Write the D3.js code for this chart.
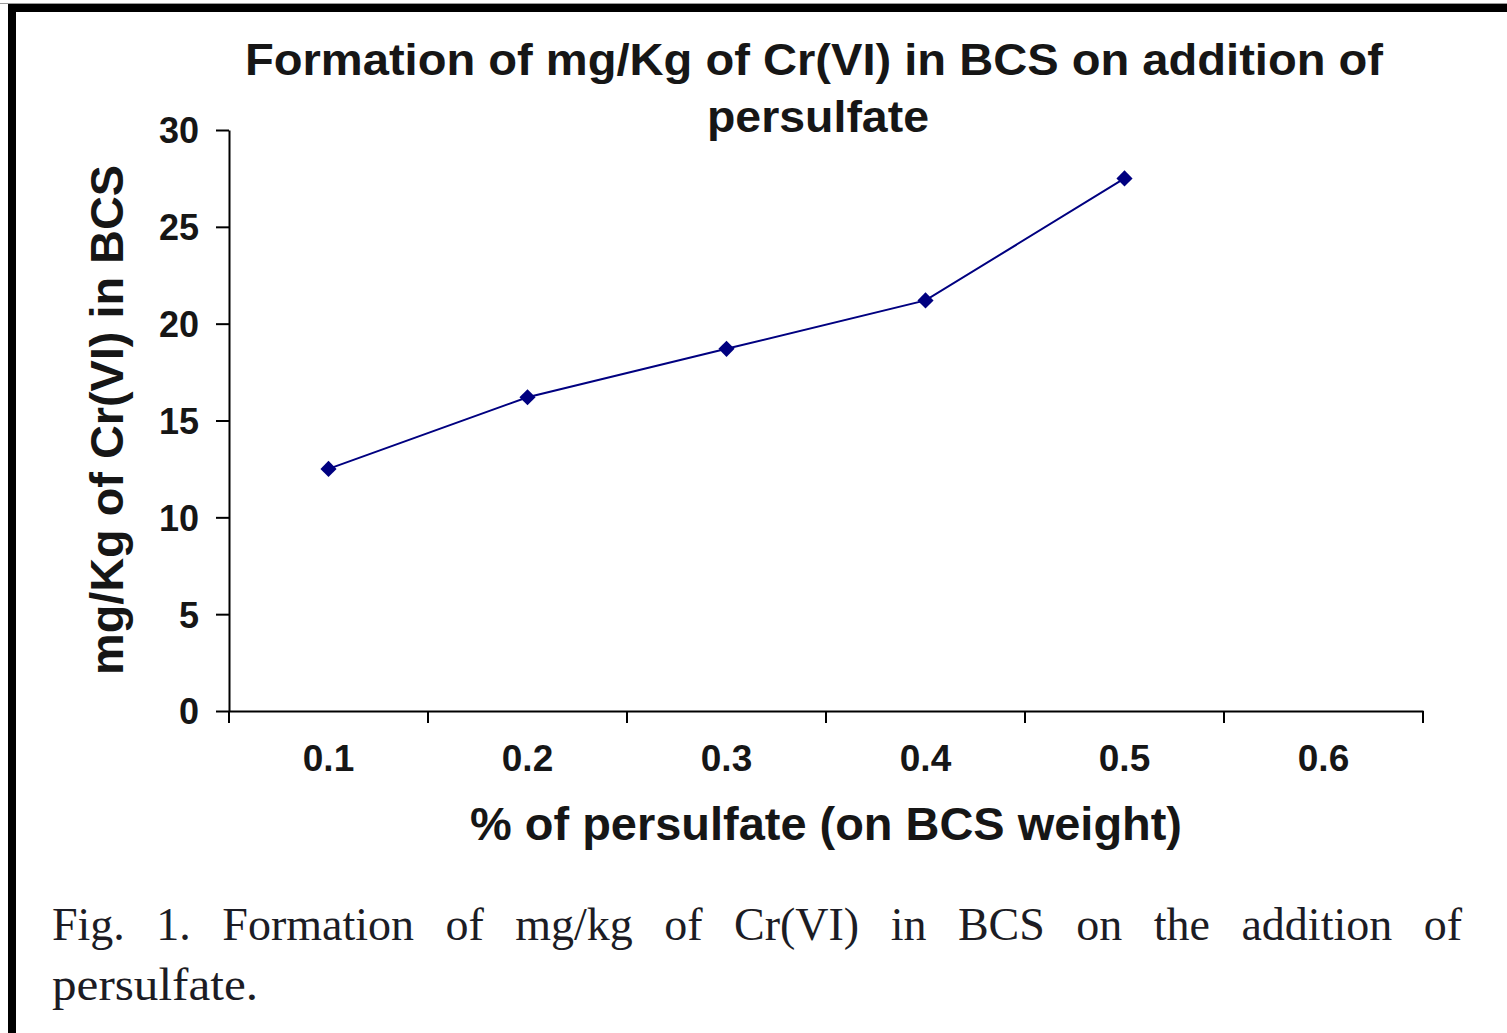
<!DOCTYPE html>
<html>
<head>
<meta charset="utf-8">
<script src="https://cdn.jsdelivr.net/npm/d3@7"></script>
<style>
  html, body { margin: 0; padding: 0; background: #fff; }
  svg { display: block; }
</style>
</head>
<body>
<svg id="chart" width="1507" height="1033"></svg>
<script>
// ---- data ----
const categories = ["0.1", "0.2", "0.3", "0.4", "0.5", "0.6"];
const values = [12.5, 16.2, 18.7, 21.2, 27.5, null];
const yTicks = [0, 5, 10, 15, 20, 25, 30];
const titleLines = ["Formation of mg/Kg of Cr(VI) in BCS on addition of", "persulfate"];
const xTitle = "% of persulfate (on BCS weight)";
const yTitle = "mg/Kg of Cr(VI) in BCS";
const captionLines = ["Fig. 1. Formation of mg/kg of Cr(VI) in BCS on the addition of", "persulfate."];

// ---- layout ----
const W = 1507, H = 1033;
const plot = { left: 229, right: 1423, top: 130, bottom: 711 };
const textColor = "#161616";
const sans = "'Liberation Sans', Arial, sans-serif";
const serif = "'Liberation Serif', 'Times New Roman', serif";

const svg = d3.select("#chart");
svg.append("rect").attr("width", W).attr("height", H).attr("fill", "#fff");

// frame (top and left black bands)
svg.append("line").attr("x1", 0).attr("x2", W).attr("y1", 3.5).attr("y2", 3.5)
  .attr("stroke", "#9a9a9a").attr("stroke-width", 1);
svg.append("rect").attr("x", 8).attr("y", 4).attr("width", W - 8).attr("height", 8).attr("fill", "#000");
svg.append("rect").attr("x", 8).attr("y", 4).attr("width", 8).attr("height", H - 4).attr("fill", "#000");

// scales
const x = d3.scaleBand().domain(categories).range([plot.left, plot.right]).padding(0);
const y = d3.scaleLinear().domain([0, 30]).range([plot.bottom, plot.top]);

// y axis
const yAxis = svg.append("g").attr("transform", `translate(${plot.left},0)`)
  .call(d3.axisLeft(y).tickValues(yTicks).tickSize(13).tickPadding(17).tickSizeOuter(0));
yAxis.select(".domain").attr("stroke", "#000").attr("stroke-width", 2);
yAxis.selectAll(".tick line").attr("stroke", "#000").attr("stroke-width", 2);
yAxis.selectAll(".tick text").attr("font-family", sans).attr("font-weight", "bold")
  .attr("font-size", 36).attr("fill", textColor).attr("dy", "0.36em");

// x axis (category labels)
const xAxis = svg.append("g").attr("transform", `translate(0,${plot.bottom})`)
  .call(d3.axisBottom(x).tickSize(0).tickPadding(34).tickSizeOuter(0));
xAxis.select(".domain").attr("stroke", "#000").attr("stroke-width", 2);
xAxis.selectAll(".tick text").attr("font-family", sans).attr("font-weight", "bold")
  .attr("font-size", 37).attr("fill", textColor);
// boundary tick marks between categories
const bounds = categories.map(c => x(c)).concat([x(categories[categories.length - 1]) + x.bandwidth()]);
svg.append("g").selectAll("line").data(bounds).join("line")
  .attr("x1", d => d).attr("x2", d => d)
  .attr("y1", plot.bottom).attr("y2", plot.bottom + 12)
  .attr("stroke", "#000").attr("stroke-width", 2);

// series
const pts = categories.map((c, i) => ({ c, v: values[i] })).filter(d => d.v != null);
const line = d3.line().x(d => x(d.c) + x.bandwidth() / 2).y(d => y(d.v));
svg.append("path").datum(pts).attr("d", line)
  .attr("fill", "none").attr("stroke", "#000080").attr("stroke-width", 2);
svg.append("g").selectAll("path").data(pts).join("path")
  .attr("d", d3.symbol().type(d3.symbolSquare).size(130))
  .attr("transform", d => `translate(${x(d.c) + x.bandwidth() / 2},${y(d.v)}) rotate(45)`)
  .attr("fill", "#000080");

// title
const titleY = [75, 132];
const titleW = [1138, 222];
svg.append("g").selectAll("text").data(titleLines).join("text")
  .attr("x", (d, i) => i === 0 ? 814 : 818).attr("y", (d, i) => titleY[i])
  .attr("text-anchor", "middle")
  .attr("font-family", sans).attr("font-weight", "bold").attr("font-size", 45)
  .attr("textLength", (d, i) => titleW[i]).attr("lengthAdjust", "spacingAndGlyphs")
  .attr("fill", textColor)
  .text(d => d);

// x axis title
svg.append("text").attr("x", 826).attr("y", 840).attr("text-anchor", "middle")
  .attr("font-family", sans).attr("font-weight", "bold").attr("font-size", 46)
  .attr("textLength", 712).attr("lengthAdjust", "spacingAndGlyphs")
  .attr("fill", textColor).text(xTitle);

// y axis title
svg.append("text").attr("transform", `translate(123,${(165 + 675) / 2}) rotate(-90)`)
  .attr("text-anchor", "middle")
  .attr("font-family", sans).attr("font-weight", "bold").attr("font-size", 46)
  .attr("textLength", 510).attr("lengthAdjust", "spacingAndGlyphs")
  .attr("fill", textColor).text(yTitle);

// caption (justified first line)
const capSize = 46;
const cap1 = svg.append("text").attr("x", 52).attr("y", 940)
  .attr("font-family", serif).attr("font-size", capSize).attr("fill", "#1c1c24").text(captionLines[0]);
const natural = cap1.node().getComputedTextLength();
const spaces = (captionLines[0].match(/ /g) || []).length;
const target = 1462 - 52;
if (spaces > 0) cap1.attr("word-spacing", (target - natural) / spaces);
svg.append("text").attr("x", 52).attr("y", 1000)
  .attr("font-family", serif).attr("font-size", capSize).attr("fill", "#1c1c24")
  .attr("textLength", 206).attr("lengthAdjust", "spacingAndGlyphs").text(captionLines[1]);
</script>
</body>
</html>
